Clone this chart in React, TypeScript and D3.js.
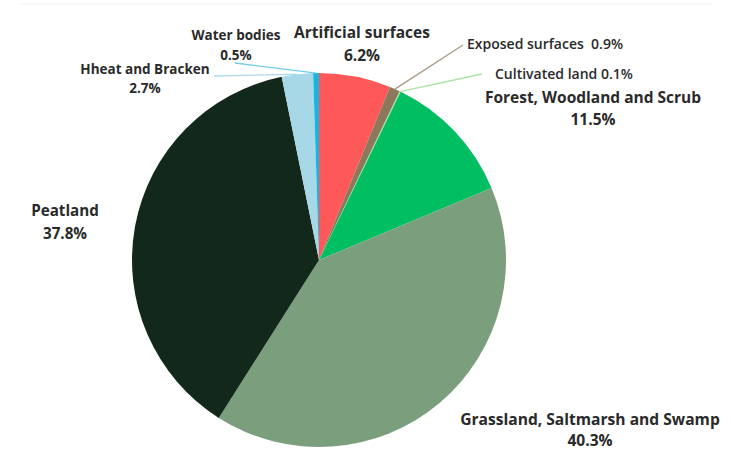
import React from "react";
import * as d3 from "d3";

const categories = [
  "Artificial surfaces",
  "Exposed surfaces",
  "Cultivated land",
  "Forest, Woodland and Scrub",
  "Grassland, Saltmarsh and Swamp",
  "Peatland",
  "Hheat and Bracken",
  "Water bodies",
];
const values = [6.2, 0.9, 0.1, 11.5, 40.3, 37.8, 2.7, 0.5];
const valueLabels = ["6.2%", "0.9%", "0.1%", "11.5%", "40.3%", "37.8%", "2.7%", "0.5%"];
const colors = ["#FF5858", "#8C785A", "#9EE38F", "#00BF63", "#7B9F7C", "#12281B", "#A6D8E7", "#18B5E0"];

const W = 731;
const H = 452;
const cx = 319;
const cy = 260;
const R = 187;

type LabelSpec = {
  x: number;
  y: number;
  size: number;
  weight: number;
  gap?: number;
  inline?: boolean;
  leader?: { x: number; y: number; color: string };
};

const labelLayout: LabelSpec[] = [
  { x: 362, y: 38, size: 15.5, weight: 700, gap: 23 },
  { x: 467, y: 49, size: 14, weight: 600, inline: true, leader: { x: 463, y: 45, color: "#A99A83" } },
  { x: 495, y: 79, size: 14, weight: 600, inline: true, leader: { x: 482, y: 74, color: "#A8E6A0" } },
  { x: 593, y: 103, size: 15.5, weight: 700, gap: 22 },
  { x: 590, y: 425, size: 15.6, weight: 700, gap: 21 },
  { x: 65, y: 216, size: 15.2, weight: 700, gap: 23 },
  { x: 145, y: 74, size: 13.5, weight: 700, gap: 19 },
  { x: 236, y: 40, size: 13.5, weight: 700, gap: 20 },
];
labelLayout[6].leader = { x: 214, y: 76, color: "#AEDBEA" };
labelLayout[7].leader = { x: 235, y: 63, color: "#6FCDEB" };

export default function App() {
  const pie = d3
    .pie<number>()
    .sort(null)
    .value((d) => d)
    .startAngle(0)
    .endAngle(2 * Math.PI);
  const arcs = pie(values);
  const arc = d3.arc<d3.PieArcDatum<number>>().innerRadius(0).outerRadius(R);

  return (
    <svg
      width={W}
      height={H}
      viewBox={`0 0 ${W} ${H}`}
      style={{ position: "absolute", left: 0, top: 0, background: "#fff" }}
      fontFamily="'Open Sans', 'Noto Sans', sans-serif"
    >
      <rect x={0} y={0} width={W} height={H} fill="#fff" />
      <line x1={20} x2={711} y1={4} y2={4} stroke="#f1f1f1" strokeWidth={1} />
      <g transform={`translate(${cx},${cy})`}>
        {arcs.map((a, i) => (
          <path key={i} d={arc(a) || ""} fill={colors[i]} />
        ))}
      </g>
      {arcs.map((a, i) => {
        const spec = labelLayout[i];
        if (!spec.leader) return null;
        const mid = (a.startAngle + a.endAngle) / 2;
        const sx = cx + Math.sin(mid) * R;
        const sy = cy - Math.cos(mid) * R;
        return (
          <line
            key={"l" + i}
            x1={sx}
            y1={sy}
            x2={spec.leader.x}
            y2={spec.leader.y}
            stroke={spec.leader.color}
            strokeWidth={1.3}
          />
        );
      })}
      {categories.map((c, i) => {
        const spec = labelLayout[i];
        if (spec.inline) {
          return (
            <text
              key={"t" + i}
              x={spec.x}
              y={spec.y}
              fontSize={spec.size}
              fontWeight={spec.weight}
              fill="#2a2a2a"
              textAnchor="start"
              style={{ whiteSpace: "pre" }}
            >
              {c + (i === 1 ? "  " : " ") + valueLabels[i]}
            </text>
          );
        }
        return (
          <text
            key={"t" + i}
            x={spec.x}
            y={spec.y}
            fontSize={spec.size}
            fontWeight={spec.weight}
            fill="#2a2a2a"
            textAnchor="middle"
          >
            <tspan x={spec.x}>{c}</tspan>
            <tspan x={spec.x} dy={spec.gap}>
              {valueLabels[i]}
            </tspan>
          </text>
        );
      })}
    </svg>
  );
}
